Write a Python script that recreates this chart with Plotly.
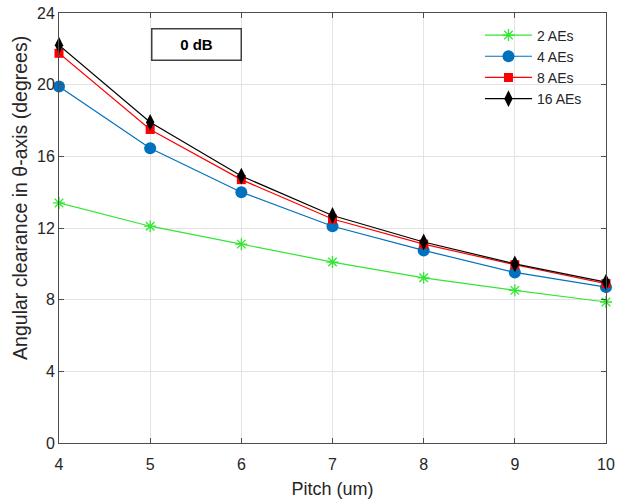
import plotly.graph_objects as go

pitch = [4, 5, 6, 7, 8, 9, 10]
ae2 = [13.4, 12.1, 11.1, 10.1, 9.22, 8.52, 7.87]
ae4 = [19.9, 16.45, 14.0, 12.1, 10.75, 9.52, 8.7]
ae8 = [21.75, 17.5, 14.7, 12.5, 11.1, 9.95, 8.9]
ae16 = [22.2, 17.9, 14.9, 12.7, 11.22, 10.0, 8.98]
names = ["2 AEs", "4 AEs", "8 AEs", "16 AEs"]
yticks = [0, 4, 8, 12, 16, 20, 24]
xticks = [4, 5, 6, 7, 8, 9, 10]

FONT = "Liberation Sans, Arial"

fig = go.Figure()
fig.add_trace(go.Scatter(x=pitch, y=ae2, name=names[0], mode="lines+markers", cliponaxis=False,
                         line=dict(color="#33e633", width=1.2),
                         marker=dict(symbol="asterisk-open", size=10,
                                     line=dict(color="#33e633", width=1.3))))
fig.add_trace(go.Scatter(x=pitch, y=ae4, name=names[1], mode="lines+markers", cliponaxis=False,
                         line=dict(color="#0072BD", width=1.2),
                         marker=dict(symbol="circle", size=12, color="#0072BD")))
fig.add_trace(go.Scatter(x=pitch, y=ae8, name=names[2], mode="lines+markers", cliponaxis=False,
                         line=dict(color="#ff0000", width=1.2),
                         marker=dict(symbol="square", size=9, color="#ff0000")))
fig.add_trace(go.Scatter(x=pitch, y=ae16, name=names[3], mode="lines+markers", cliponaxis=False,
                         line=dict(color="#000000", width=1.2),
                         marker=dict(symbol="diamond-tall", size=12, color="#000000")))

axis_common = dict(showline=True, linecolor="#4d4d4d", linewidth=1, mirror="allticks",
                   ticks="inside", ticklen=5, tickcolor="#4d4d4d",
                   showgrid=True, gridcolor="#e3e3e3", gridwidth=1, zeroline=False,
                   automargin=False,
                   tickfont=dict(family=FONT, size=16, color="#262626"))

fig.update_xaxes(range=[4, 10], tickvals=xticks, ticklabelstandoff=7, **axis_common,
                 title=dict(text="Pitch (um)", standoff=10,
                            font=dict(family=FONT, size=18, color="#262626")))
fig.update_yaxes(range=[0, 24], tickvals=yticks, **axis_common)

# y-axis title (placed as rotated text, matching reference position)
fig.add_annotation(x=-0.0713, y=0.57, xref="paper", yref="paper",
                   text="Angular clearance in θ-axis (degrees)", textangle=-90,
                   showarrow=False, xanchor="center", yanchor="middle",
                   font=dict(family=FONT, size=19.5, color="#262626"))

fig.add_annotation(x=0.2505, y=0.9256, xref="paper", yref="paper", text="<b>0 dB</b>",
                   showarrow=False, xanchor="center", yanchor="middle",
                   font=dict(family=FONT, size=15, color="#000000"),
                   bordercolor="#404040", borderwidth=1.5, borderpad=0, width=88, height=30,
                   bgcolor="white")

fig.update_layout(width=617, height=502,
                  margin=dict(l=59, r=11, t=13, b=59),
                  paper_bgcolor="white", plot_bgcolor="white",
                  showlegend=True,
                  legend=dict(x=0.7696, y=0.985, xanchor="left", yanchor="top",
                              bgcolor="rgba(255,255,255,0)", borderwidth=0,
                              font=dict(family=FONT, size=14, color="#262626"),
                              tracegroupgap=0, itemwidth=47))

fig.write_html("out.html", post_script="document.body.style.margin='0';",
               config={"displayModeBar": False})
